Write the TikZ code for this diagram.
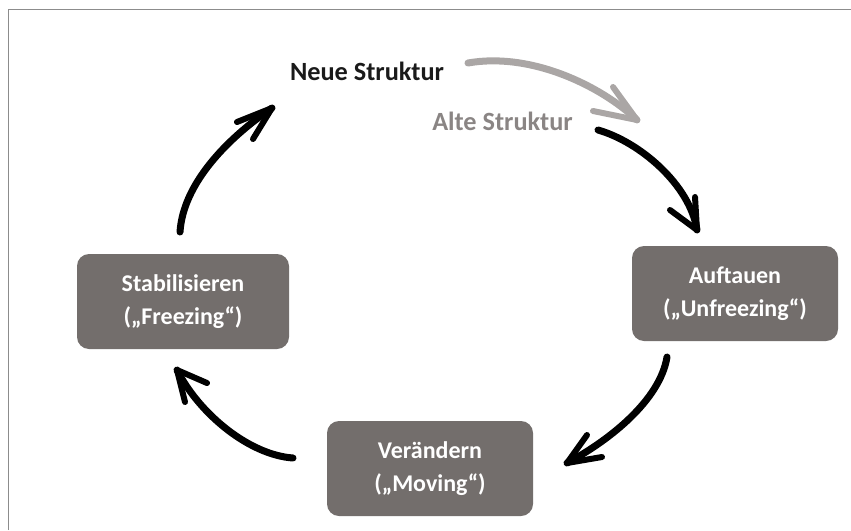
\documentclass[tikz,border=0pt]{standalone}
\usepackage{fontspec}
\setmainfont{Carlito}
\definecolor{boxgray}{HTML}{736E6C}
\definecolor{framegray}{HTML}{8C8C8C}
\definecolor{oldgray}{HTML}{8A8584}
\definecolor{arrowgray}{HTML}{AAA6A5}
\definecolor{textdark}{HTML}{1A1A1A}
\tikzset{
  stagebox/.style={rounded corners=12pt, fill=boxgray, text=white,
    font=\bfseries\fontsize{24}{33}\selectfont, align=center,
    minimum width=206pt, minimum height=95pt, inner sep=0pt},
  toplabel/.style={font=\bfseries\fontsize{26.3}{30}\selectfont, anchor=base},
  brush/.style={line width=7pt, line cap=round, line join=round},
  brushhead/.style={line width=6pt, line cap=round, line join=round},
}
\begin{document}
\begin{tikzpicture}[x=1pt,y=-1pt]
\useasboundingbox (0,0) rectangle (851,530);
% frame (top and left edges)
\draw[framegray, line width=1.5pt] (8.5,530) -- (8.5,9.5) -- (851,9.5);

% stage boxes
\node[stagebox, minimum width=212pt] (stab) at (183,301.5) {Stabilisieren\\(„Freezing“)};
\node[stagebox] (auft) at (735,293.5) {Auftauen\\(„Unfreezing“)};
\node[stagebox] (ver) at (430,468.5) {Verändern\\(„Moving“)};

% structure labels
\node[toplabel, text=textdark] (neu) at (367,80) {Neue Struktur};
\node[toplabel, text=oldgray] (alt) at (502.5,130) {Alte Struktur};

% anchor points of the connectors
\coordinate (g0) at (468,63);   \coordinate (g1) at (637,120);
\coordinate (a0) at (598,130);  \coordinate (a1) at (697,230);
\coordinate (b0) at (667,357);  \coordinate (b1) at (567,463);
\coordinate (c0) at (293,458);  \coordinate (c1) at (177,370);
\coordinate (d0) at (180,232);  \coordinate (d1) at (272,108);

% gray arrow: Neue -> Alte
\draw[brush, arrowgray] (g0) .. controls (530,52) and (600,85) .. (g1);
\draw[brushhead, arrowgray] (593,111) -- (g1) -- (613,87);

% Alte -> Auftauen
\draw[brush] (a0) .. controls (640,142) and (690,185) .. (a1);
\draw[brushhead] (670,210) -- (a1) -- (695,197);

% Auftauen -> Veraendern
\draw[brush] (b0) .. controls (660,400) and (610,440) .. (b1);
\draw[brushhead] (587,435) -- (b1) -- (602,457);

% Veraendern -> Stabilisieren
\draw[brush] (c0) .. controls (250,455) and (200,415) .. (c1);
\draw[brushhead] (207,383) -- (c1) -- (185,402);

% Stabilisieren -> Neue
\draw[brush] (d0) .. controls (183,185) and (225,140) .. (d1);
\draw[brushhead] (237,122) -- (d1) -- (253,139);
\end{tikzpicture}
\end{document}
